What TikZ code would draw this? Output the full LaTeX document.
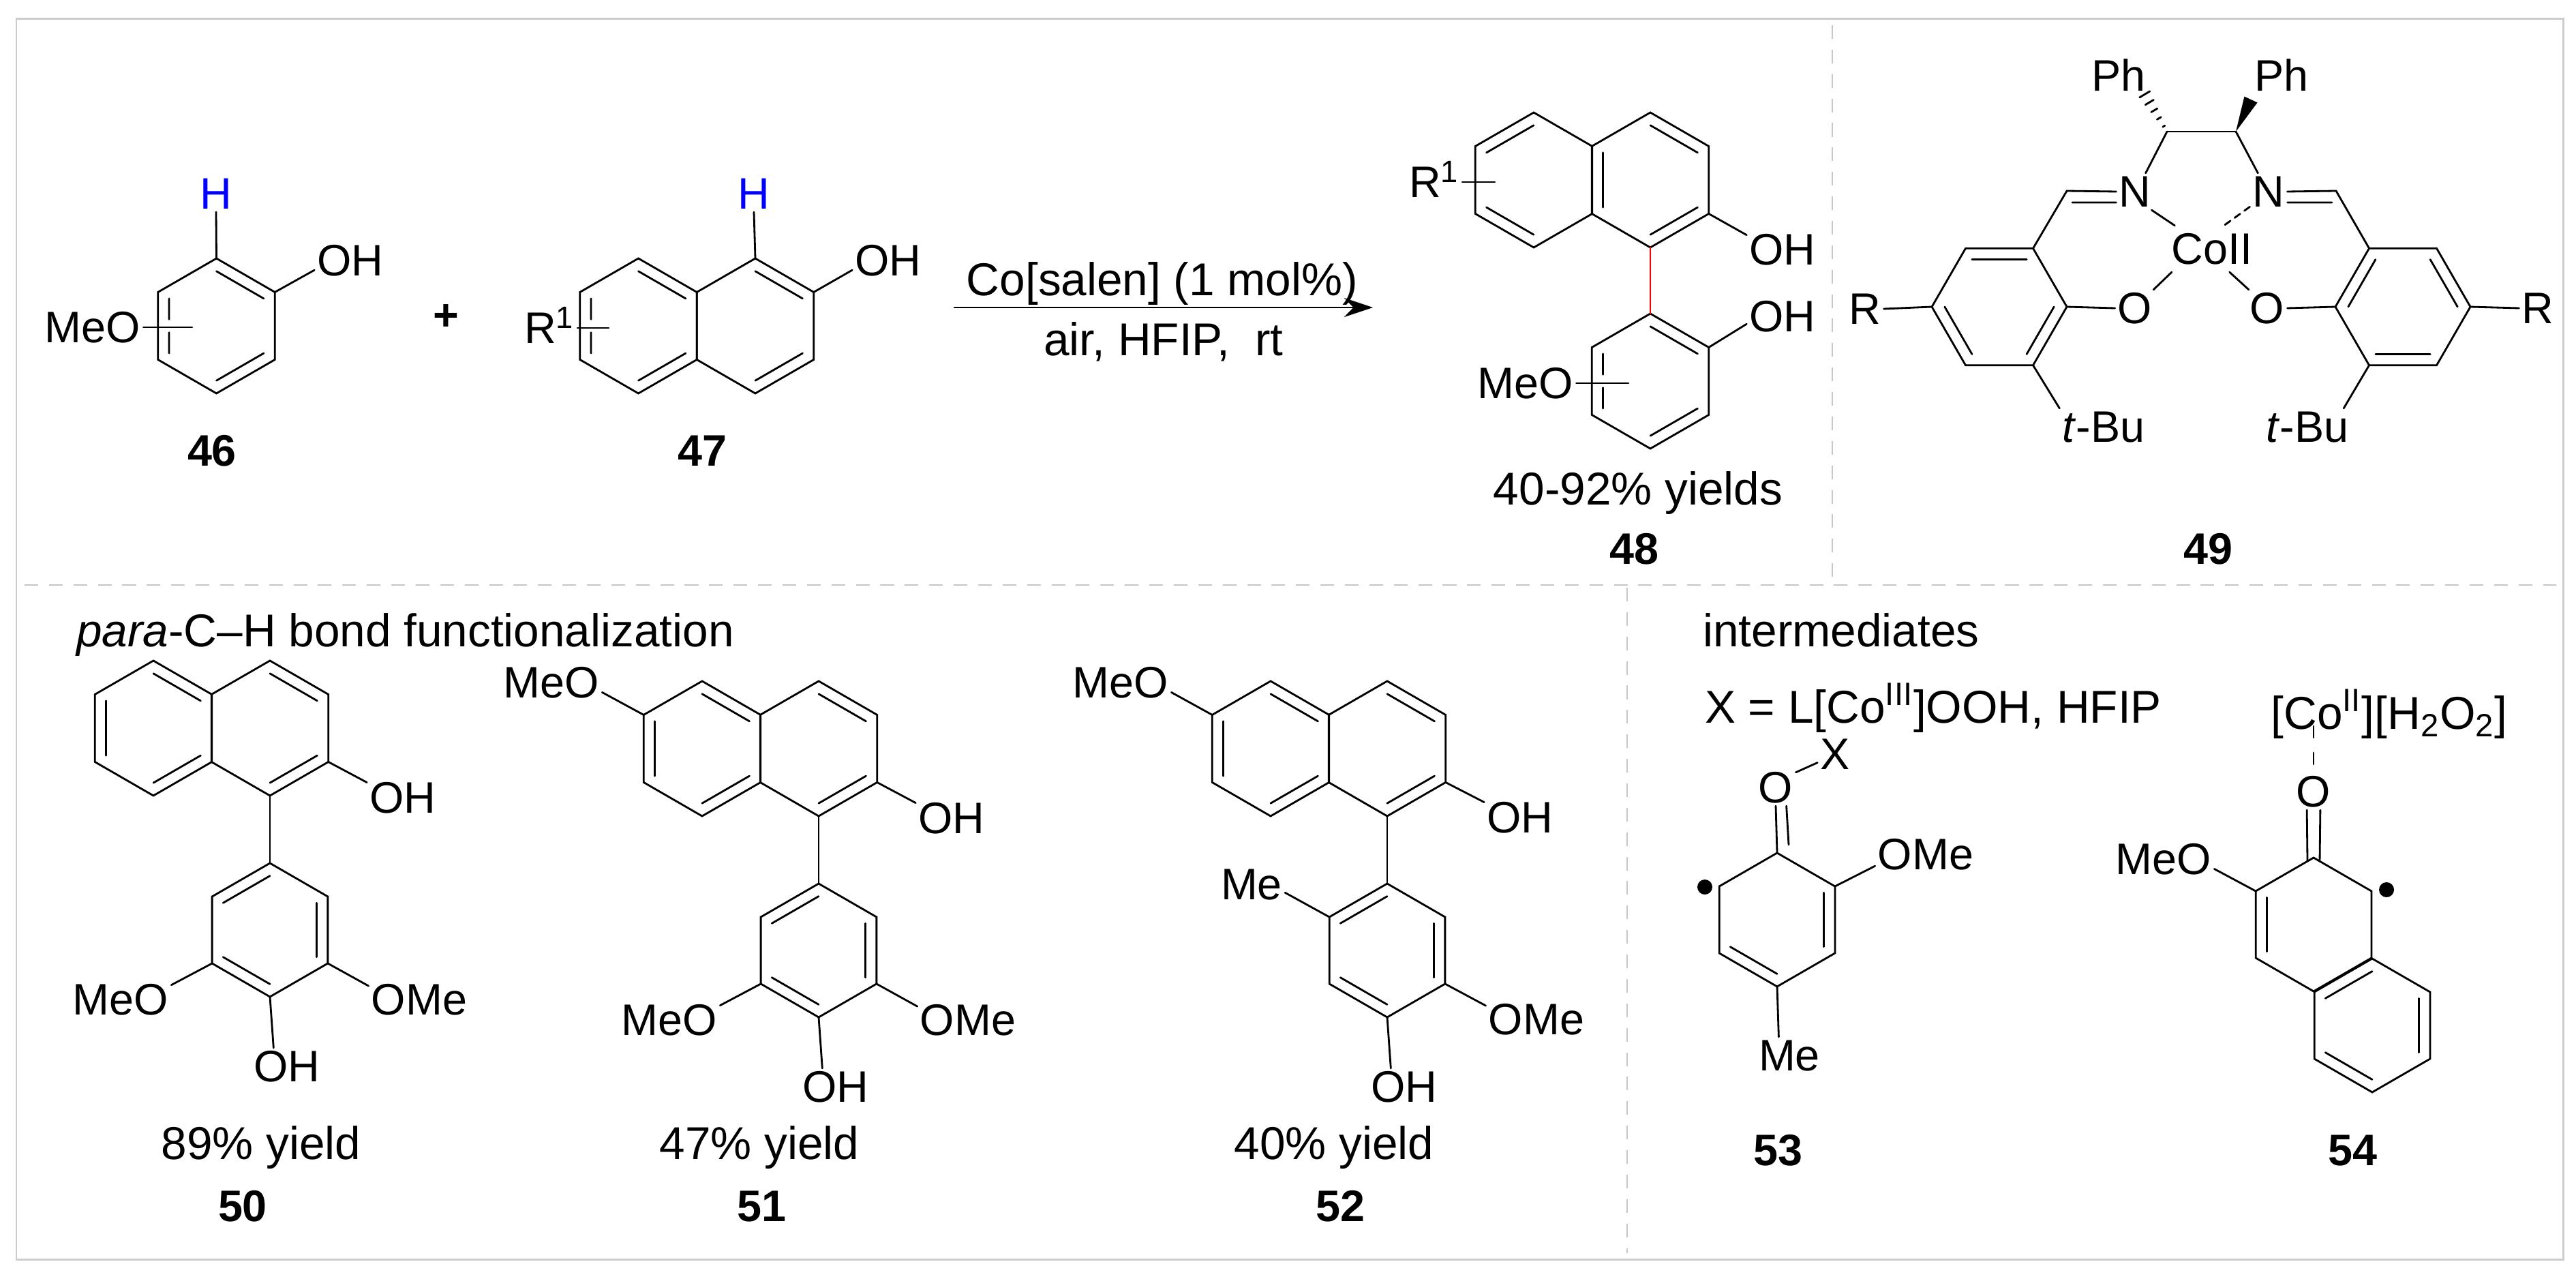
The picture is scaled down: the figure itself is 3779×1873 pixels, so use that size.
\documentclass[tikz,border=0pt]{standalone}
\usepackage{fontspec}
\setmainfont{Liberation Sans}
\usetikzlibrary{calc,arrows.meta}

% ring corners: 1 is the top one, then clockwise
\newcommand{\hexring}[6][-90]{
	\foreach \i in {1,...,6} {
		\pgfmathsetmacro{\a}{#1+60*(\i-1)}
		\coordinate (#2\i) at ({#3+#5*cos(\a)},{#4+#5*sin(\a)});
	}
	\coordinate (#2C) at (#3,#4);
	\draw[bond] (#21) -- (#22) -- (#23) -- (#24) -- (#25) -- (#26) -- cycle;
	\foreach \p/\q in {#6} {
		\draw[bond] ($(#2\p)!.19!(#2C)$) -- ($(#2\q)!.19!(#2C)$);
	}
}
% inner line with a gap for a substituent
\newcommand{\splitbond}[3]{
	\draw[bond] ($(#1)!.19!(#3)$) -- ($($(#1)!.19!(#3)$)!.38!($(#2)!.19!(#3)$)$)
		($($(#1)!.19!(#3)$)!.62!($(#2)!.19!(#3)$)$) -- ($(#2)!.19!(#3)$);
}

\begin{document}
\begin{tikzpicture}[x=0.01cm, y=-0.01cm,
	bond/.style={line width=0.8pt, line cap=round},
	atom/.style={font=\fontsize{18.4}{22}\selectfont, inner sep=1pt, text height=13pt, text depth=0pt},
	caption/.style={font=\fontsize{19.2}{23}\selectfont, inner sep=1pt, text height=13.5pt, text depth=0pt},
	number/.style={atom, font=\fontsize{18.4}{22}\selectfont\bfseries},
	frameline/.style={draw=black!20, line width=0.85pt},
	sepline/.style={draw=black!22, line width=0.7pt, dash pattern=on 5.7pt off 4.5pt},
	dot/.style={circle, fill=black, inner sep=0pt, minimum size=0.22cm},
	cobond/.style={bond, dash pattern=on 2.8pt off 2.2pt}]
	\useasboundingbox (0,0) rectangle (3779,1873);

	% Frame and separators
	\draw[frameline] (24,28) rectangle (3760,1847);
	\draw[sepline] (36,858) -- (3750,858);
	\draw[sepline] (2688,37) -- (2688,848);
	\draw[sepline] (2387,862) -- (2387,1838);

	% Compound 46
	\hexring{r46}{317.5}{478}{99}{1/2,3/4}
	\splitbond{r466}{r465}{r46C}
	\node[atom, text=blue] (h46) at (317,284) {H};
	\node[atom] (oh46) at (514,382) {OH};
	\node[atom] (meo46) at (136,480) {MeO};
	\coordinate (sub46) at (282,480);
	\draw[bond] (r461) -- (h46.south);
	\draw[bond] (r462) -- (oh46.195);
	\draw[bond] (meo46.east) -- (sub46);
	\node[number] (n46) at (311,661) {46};

	\node[number] (plus) at (654,462) {+};

	% Compound 47
	\hexring{l47}{936.5}{478}{99}{1/2,3/4}
	\splitbond{l476}{l475}{l47C}
	\hexring{r47}{1108}{478}{99}{1/2,3/4}
	\node[atom, text=blue] (h47) at (1106,284) {H};
	\node[atom] (oh47) at (1303,382) {OH};
	\node[atom] (rr47) at (806,481) {R\textsuperscript{1}};
	\coordinate (sub47) at (893,481);
	\draw[bond] (r471) -- (h47.south);
	\draw[bond] (r472) -- (oh47.195);
	\draw[bond] (rr47.east) -- (sub47);
	\node[number] (n47) at (1030,661) {47};

	% Reaction arrow
	\coordinate (arrowa) at (1400,451);
	\coordinate (arrowb) at (2014,451);
	\draw[bond, -{Stealth[length=12pt, width=8pt]}] (arrowa) -- (arrowb);
	\node[caption] (salen) at (1705,410) {Co[salen] (1 mol\%)};
	\node[caption] (air) at (1707,498) {air, HFIP,\ \ rt};

	% Compound 48
	\hexring{l48}{2250}{264}{99}{6/1,4/5}
	\hexring{r48}{2421}{264}{99}{1/2,3/4,5/6}
	\hexring{p48}{2421}{559}{99}{1/2,3/4}
	\splitbond{p486}{p485}{p48C}
	\draw[bond, red, line width=0.6pt] (r484) -- (p481);
	\node[atom] (rr48) at (2104,267) {R\textsuperscript{1}};
	\coordinate (sub48) at (2193,267);
	\node[atom] (oha48) at (2615,366) {OH};
	\node[atom] (ohb48) at (2615,464) {OH};
	\node[atom] (meo48) at (2238,562) {MeO};
	\coordinate (subm48) at (2389,562);
	\draw[bond] (rr48.east) -- (sub48);
	\draw[bond] (r483) -- (oha48.158);
	\draw[bond] (p482) -- (ohb48.192);
	\draw[bond] (meo48.east) -- (subm48);
	\node[caption] (yield48) at (2403,717) {40-92\% yields};
	\node[number] (n48) at (2397,805) {48};

	% Compound 49
	\hexring[-120]{l49}{2933}{450}{99}{1/2,3/4,5/6}
	\hexring[-120]{r49}{3525}{450}{99}{2/3,4/5,6/1}
	\coordinate (cl) at (3179,193);
	\coordinate (cr) at (3280,193);
	\coordinate (hl) at (3140,128);
	\coordinate (wr) at (3302,146);
	\node[atom] (phl) at (3108,111) {Ph};
	\node[atom] (phr) at (3347,111) {Ph};
	\node[atom] (nl) at (3132,281) {N};
	\node[atom] (nr) at (3328,281) {N};
	\node[atom] (ol) at (3132,452) {O};
	\node[atom] (or) at (3326,452) {O};
	\node[atom, inner sep=3pt] (co) at (3245,365) {CoII};
	\node[atom] (rl) at (2736,453) {R};
	\node[atom] (rr) at (3723,452) {R};
	\node[atom] (bul) at (3086,626) {\textit{t}-Bu};
	\node[atom] (bur) at (3385,626) {\textit{t}-Bu};
	\coordinate (iml) at (3032,280);
	\coordinate (imla) at (3040,297);
	\coordinate (imr) at (3427,280);
	\coordinate (imra) at (3421,297);
	\draw[bond] (cl) -- (cr);
	\foreach \t/\w in {.12/.5,.3/1,.48/1.5,.66/2,.84/2.5} {
		\draw[bond] ($(cl)!\t!(hl)!\w pt!90:(hl)$) -- ($(cl)!\t!(hl)!\w pt!-90:(hl)$);
	}
	\fill (cr) -- ($(wr)!3pt!90:(cr)$) -- ($(wr)!3pt!-90:(cr)$) -- cycle;
	\draw[bond] (cl) -- (nl.60);
	\draw[bond] (cr) -- (nr.120);
	\draw[bond] (l492) -- (iml) -- (nl.west);
	\draw[bond] (imla) -- (nl.210);
	\draw[bond] (r491) -- (imr) -- (nr.east);
	\draw[bond] (imra) -- (nr.330);
	\draw[bond] (nl.312) -- (co.148);
	\draw[cobond] (nr.219) -- (co.63);
	\draw[bond] (ol.45) -- (co.210);
	\draw[bond] (or.135) -- (co.307);
	\draw[bond] (l493) -- (ol.west);
	\draw[bond] (r496) -- (or.east);
	\draw[bond] (rl.east) -- (l496);
	\draw[bond] (r493) -- (rr.west);
	\draw[bond] (l494) -- (bul.north west);
	\draw[bond] (r495) -- (bur.27);
	\node[number] (n49) at (3239,805) {49};

	% Compounds 50 and 51
	\node[caption, anchor=west] (para) at (108,925) {\textit{para}-C--H bond functionalization};
	\foreach \n/\dx/\dy in {50/0/0,51/805/30} {
		\begin{scope}[shift={(\dx,\dy)}]
			\hexring{l\n}{225}{1068}{99}{1/2,3/4,5/6}
			\hexring{r\n}{396}{1068}{99}{1/2,3/4}
			\hexring{p\n}{396}{1364}{98}{6/1,2/3,4/5}
			\node[atom] (oh\n) at (591,1170) {OH};
			\node[atom] (meo\n) at (177,1466) {MeO};
			\node[atom] (ome\n) at (615,1466) {OMe};
			\node[atom] (ohp\n) at (421,1564) {OH};
			\draw[bond] (r\n3) -- (oh\n.157);
			\draw[bond] (r\n4) -- (p\n1);
			\draw[bond] (p\n5) -- (meo\n.16);
			\draw[bond] (p\n3) -- (ome\n.165);
			\draw[bond] (p\n4) -- (ohp\n.126);
		\end{scope}
	}
	\node[atom] (mea51) at (809,1001) {MeO};
	\draw[bond] (l516) -- (mea51.349);
	\node[caption] (yield50) at (383,1677) {89\% yield};
	\node[number] (n50) at (356,1769) {50};
	\node[caption] (yield51) at (1114,1677) {47\% yield};
	\node[number] (n51) at (1117,1769) {51};

	% Compound 52
	\hexring{l52}{1864}{1098}{99}{1/2,3/4,5/6}
	\hexring{r52}{2035}{1098}{99}{1/2,3/4}
	\hexring{p52}{2035}{1394}{98}{6/1,2/3,4/5}
	\node[atom] (mea52) at (1644,1001) {MeO};
	\node[atom] (oh52) at (2230,1199) {OH};
	\node[atom] (me52) at (1836,1297) {Me};
	\node[atom] (ome52) at (2254,1495) {OMe};
	\node[atom] (ohp52) at (2060,1594) {OH};
	\draw[bond] (l526) -- (mea52.349);
	\draw[bond] (r523) -- (oh52.157);
	\draw[bond] (r524) -- (p521);
	\draw[bond] (p526) -- (me52.346);
	\draw[bond] (p523) -- (ome52.165);
	\draw[bond] (p524) -- (ohp52.126);
	\node[caption] (yield52) at (1957,1677) {40\% yield};
	\node[number] (n52) at (1966,1769) {52};

	% Intermediates
	\node[caption, anchor=west] (inter) at (2494,925) {intermediates};
	\node[caption, anchor=west] (xdef) at (2497,1037) {X = L[Co\textsuperscript{III}]OOH, HFIP};

	% Compound 53
	\hexring{r53}{2607}{1349}{98}{2/3,4/5}
	\node[atom] (o53) at (2605,1155) {O};
	\node[atom] (x53) at (2692,1106) {X};
	\node[atom] (ome53) at (2825,1253) {OMe};
	\node[atom] (me53) at (2625,1548) {Me};
	\node[dot] (dot53) at (2501,1301) {};
	\coordinate (co53) at (2624,1239);
	\draw[bond] (o53.37) -- (x53.206);
	\draw[bond] (o53.south) -- (r531);
	\draw[bond] (o53.-60) -- (co53);
	\draw[bond] (r532) -- (ome53.193);
	\draw[bond] (r534) -- (me53.120);
	\node[number] (n53) at (2608,1687) {53};

	% Compound 54
	\hexring{c54}{3394}{1356}{98}{5/6}
	\hexring{b54}{3480}{1504}{98}{6/1,2/3,4/5}
	\node[caption] (co54) at (3505,1046) {[Co\textsuperscript{II}][H\textsubscript{2}O\textsubscript{2}]};
	\node[atom] (o54) at (3394,1161) {O};
	\node[atom] (meo54) at (3174,1260) {MeO};
	\node[dot] (dot54) at (3501,1305) {};
	\coordinate (cotop) at (3394,1065);
	\coordinate (cola) at (3385,1263);
	\coordinate (colb) at (3403,1263);
	\draw[bond, dash pattern=on 4.8pt off 6.3pt] (cotop) -- (o54.north);
	\draw[bond] (o54.-110) -- (cola);
	\draw[bond] (o54.-70) -- (colb);
	\draw[bond] (c546) -- (meo54.349);
	\node[number] (n54) at (3451,1687) {54};
\end{tikzpicture}
\end{document}
